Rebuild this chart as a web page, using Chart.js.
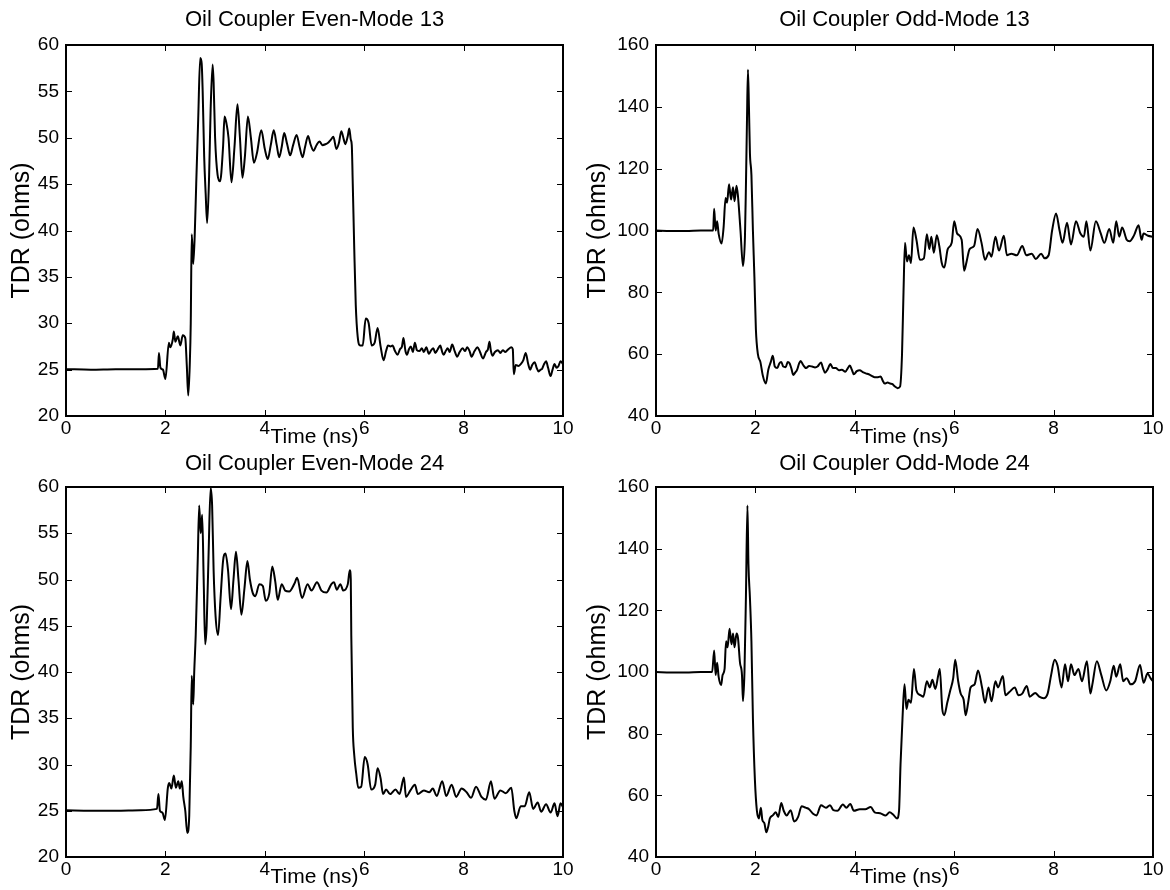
<!DOCTYPE html>
<html>
<head>
<meta charset="utf-8">
<script src="https://cdn.jsdelivr.net/npm/chart.js@4.4.0/dist/chart.umd.min.js"></script>
<style>
  html, body { margin: 0; padding: 0; background: #fff; }
  body { width: 1170px; height: 890px; position: relative; overflow: hidden; }
  canvas { position: absolute; }
</style>
</head>
<body>
<canvas id="c-even13" width="585" height="455" style="left:0;top:0"></canvas>
<canvas id="c-odd13" width="590" height="455" style="left:580px;top:0"></canvas>
<canvas id="c-even24" width="585" height="445" style="left:0;top:445px"></canvas>
<canvas id="c-odd24" width="590" height="445" style="left:580px;top:445px"></canvas>
<script>
// ── DATA (time in ns, TDR impedance in ohms) ───────────────────────
const timeTicks = [0, 2, 4, 6, 8, 10];
const evenTicks = [20, 25, 30, 35, 40, 45, 50, 55, 60];
const oddTicks = [40, 60, 80, 100, 120, 140, 160];

const even13Time = [0, 0.5, 1.0, 1.5, 1.85, 1.87, 1.9, 1.95, 2.0, 2.07, 2.1, 2.15, 2.17, 2.2, 2.25, 2.3, 2.35, 2.4, 2.43, 2.46, 2.49, 2.51, 2.53, 2.56, 2.59, 2.62, 2.66, 2.7, 2.73, 2.75, 2.78, 2.81, 2.84, 2.88, 2.91, 2.95, 2.97, 3.0, 3.05, 3.1, 3.16, 3.19, 3.23, 3.27, 3.33, 3.39, 3.45, 3.5, 3.55, 3.6, 3.66, 3.72, 3.78, 3.84, 3.93, 4.0, 4.06, 4.12, 4.18, 4.24, 4.29, 4.34, 4.39, 4.45, 4.51, 4.57, 4.64, 4.7, 4.76, 4.81, 4.87, 4.92, 4.98, 5.04, 5.1, 5.16, 5.22, 5.28, 5.33, 5.38, 5.44, 5.49, 5.54, 5.59, 5.62, 5.67, 5.7, 5.73, 5.75, 5.77, 5.8, 5.83, 5.87, 5.92, 5.97, 6.03, 6.09, 6.15, 6.21, 6.27, 6.33, 6.39, 6.44, 6.48, 6.53, 6.57, 6.62, 6.67, 6.72, 6.76, 6.79, 6.83, 6.86, 6.9, 6.94, 6.98, 7.02, 7.06, 7.11, 7.16, 7.2, 7.25, 7.3, 7.35, 7.39, 7.43, 7.48, 7.53, 7.57, 7.6, 7.64, 7.68, 7.72, 7.77, 7.82, 7.87, 7.92, 7.98, 8.03, 8.07, 8.12, 8.16, 8.22, 8.28, 8.33, 8.39, 8.45, 8.49, 8.52, 8.55, 8.58, 8.63, 8.69, 8.74, 8.79, 8.84, 8.9, 8.96, 8.99, 9.01, 9.05, 9.1, 9.15, 9.2, 9.25, 9.3, 9.34, 9.38, 9.43, 9.47, 9.51, 9.55, 9.58, 9.62, 9.66, 9.7, 9.75, 9.79, 9.83, 9.87, 9.91, 9.95, 10];
const even13Z = [25.05, 25.0, 25.05, 25.05, 25.1, 26.8, 25.2, 25.0, 24.0, 27.9, 27.4, 28.3, 29.1, 28.0, 28.6, 27.6, 28.7, 28.4, 25.5, 22.2, 25.5, 30.0, 39.6, 36.4, 39.5, 45.0, 52.0, 58.6, 58.0, 55.0, 48.0, 44.0, 40.8, 46.0, 53.0, 57.9, 56.0, 50.0, 46.0, 45.3, 49.0, 52.3, 51.5, 50.0, 45.2, 49.0, 53.6, 50.0, 45.7, 48.0, 52.3, 50.0, 47.3, 48.3, 50.8, 48.8, 47.7, 49.2, 50.8, 49.2, 47.9, 49.0, 50.5, 49.3, 48.1, 49.2, 50.3, 49.0, 47.9, 49.0, 50.2, 49.3, 48.6, 49.2, 49.6, 49.2, 49.3, 49.5, 49.8, 50.1, 48.8, 49.4, 50.7, 49.8, 49.3, 50.2, 51.0, 49.8, 49.2, 45.0, 38.0, 32.0, 28.5, 27.6, 27.6, 30.5, 30.0, 27.6, 27.9, 29.5, 27.5, 26.0, 27.0, 27.6, 27.5, 27.6, 27.0, 26.6, 27.2, 27.5, 28.4, 27.0, 26.6, 27.2, 27.5, 26.9, 27.9, 27.1, 27.0, 27.3, 26.9, 27.4, 26.7, 27.1, 27.3, 26.8, 27.2, 27.6, 26.9, 26.6, 27.0, 27.3, 26.9, 27.7, 27.0, 26.4, 26.9, 27.3, 27.0, 27.4, 27.0, 26.4, 27.0, 27.4, 26.9, 26.2, 26.9, 27.2, 28.0, 27.0, 26.5, 26.9, 27.1, 26.8, 27.1, 26.9, 27.2, 27.4, 27.2, 24.5, 25.5, 25.4, 25.6, 26.0, 26.8, 25.6, 25.0, 25.5, 25.8, 25.2, 24.8, 25.0, 25.1, 25.6, 25.9, 25.2, 24.3, 25.0, 25.6, 25.2, 25.4, 25.9, 25.6];

const odd13Time = [0, 0.3, 0.6, 0.9, 1.15, 1.17, 1.2, 1.23, 1.26, 1.32, 1.36, 1.4, 1.43, 1.47, 1.51, 1.55, 1.58, 1.62, 1.65, 1.7, 1.75, 1.79, 1.81, 1.83, 1.85, 1.87, 1.89, 1.92, 1.95, 1.98, 2.01, 2.05, 2.1, 2.15, 2.21, 2.26, 2.31, 2.35, 2.39, 2.44, 2.48, 2.52, 2.56, 2.61, 2.65, 2.69, 2.73, 2.76, 2.8, 2.84, 2.88, 2.91, 2.96, 3.02, 3.08, 3.14, 3.2, 3.25, 3.32, 3.36, 3.4, 3.45, 3.51, 3.56, 3.62, 3.68, 3.74, 3.81, 3.86, 3.9, 3.94, 3.98, 4.04, 4.1, 4.16, 4.22, 4.28, 4.34, 4.4, 4.45, 4.52, 4.56, 4.6, 4.66, 4.71, 4.76, 4.79, 4.83, 4.86, 4.91, 4.95, 4.98, 5.01, 5.05, 5.09, 5.13, 5.18, 5.24, 5.31, 5.39, 5.45, 5.5, 5.54, 5.59, 5.65, 5.7, 5.75, 5.8, 5.87, 5.95, 6.0, 6.06, 6.15, 6.2, 6.25, 6.31, 6.4, 6.47, 6.55, 6.62, 6.7, 6.75, 6.83, 6.9, 7.0, 7.06, 7.15, 7.26, 7.37, 7.45, 7.56, 7.64, 7.75, 7.82, 7.9, 7.97, 8.05, 8.12, 8.18, 8.27, 8.35, 8.45, 8.54, 8.61, 8.66, 8.74, 8.85, 8.95, 9.02, 9.12, 9.2, 9.26, 9.32, 9.38, 9.47, 9.53, 9.62, 9.71, 9.77, 9.81, 9.9, 10];
const odd13Z = [100, 99.8, 99.8, 100, 100, 107, 100, 103, 99, 95.8, 101, 110.5, 109, 115, 110, 114, 109.5, 114.5, 111, 100, 88.5, 98, 115, 135, 152, 140, 125, 118, 100, 85, 68, 60, 57.5, 53, 50.5, 55, 57.5, 59.5, 56, 55.5, 57, 57.5, 56, 55.8, 57.5, 57, 55, 53.3, 54, 55, 57, 57.8, 56.5, 55.5, 56.2, 56, 55.7, 56, 57.3, 55.5, 54, 55, 56.8, 55.5, 55.5, 54.8, 55, 54.3, 55.5, 56.3, 55, 53.5, 54.5, 54.8, 54.2, 53.8, 53.5, 53.0, 52.5, 52.5, 52.8, 51.5, 50.5, 50.8, 50.5, 50.3, 49.8, 49.3, 49, 49.5, 60, 80, 96, 90, 92, 89.5, 101, 97, 90.5, 91, 98.8, 94, 98, 92.8, 98.5, 95, 89.5, 88, 94, 96, 103, 99, 97, 87, 90, 94, 95, 100.5, 96, 90.5, 93, 91.5, 98, 93.5, 98.3, 92, 92.5, 92, 95, 92, 92.5, 90.8, 92.5, 91, 92, 100, 105.5, 100, 96, 102.5, 95.5, 103, 99, 98, 103, 93.5, 103, 99, 96, 100.5, 96, 103, 98, 101, 97, 96.5, 98.5, 101.7, 97, 99, 98.3, 98];

const even24Time = [0, 0.5, 1.0, 1.5, 1.83, 1.86, 1.89, 1.94, 1.99, 2.05, 2.08, 2.12, 2.17, 2.21, 2.26, 2.29, 2.33, 2.36, 2.4, 2.44, 2.48, 2.51, 2.53, 2.56, 2.58, 2.61, 2.65, 2.68, 2.71, 2.74, 2.77, 2.8, 2.83, 2.87, 2.91, 2.94, 2.97, 3.01, 3.06, 3.11, 3.16, 3.21, 3.26, 3.32, 3.37, 3.42, 3.47, 3.53, 3.59, 3.65, 3.7, 3.76, 3.81, 3.89, 3.96, 4.02, 4.09, 4.15, 4.21, 4.26, 4.34, 4.41, 4.49, 4.6, 4.65, 4.75, 4.86, 4.94, 5.05, 5.14, 5.24, 5.34, 5.39, 5.45, 5.52, 5.58, 5.67, 5.71, 5.73, 5.74, 5.77, 5.8, 5.84, 5.88, 5.94, 6.01, 6.07, 6.14, 6.22, 6.27, 6.33, 6.38, 6.44, 6.52, 6.63, 6.71, 6.8, 6.84, 6.93, 7.02, 7.08, 7.2, 7.31, 7.38, 7.46, 7.57, 7.65, 7.76, 7.85, 7.96, 8.06, 8.15, 8.25, 8.36, 8.45, 8.55, 8.62, 8.74, 8.85, 8.96, 9.02, 9.06, 9.15, 9.23, 9.32, 9.4, 9.49, 9.56, 9.66, 9.75, 9.83, 9.89, 9.95, 10];
const even24Z = [25.05, 25.0, 25.0, 25.05, 25.2, 26.8, 25.0, 24.8, 24.0, 27.5, 28.0, 27.4, 28.8, 27.5, 28.2, 27.4, 28.2, 26.5, 25.0, 22.6, 24.5, 32.0, 39.6, 36.5, 40.0, 44.0, 52.0, 58.0, 55.0, 57.0, 50.0, 43.0, 45.0, 53.0, 59.9, 58.0, 51.0, 46.0, 44.0, 48.0, 52.0, 52.8, 51.0, 46.8, 50.0, 53.0, 50.0, 46.2, 49.0, 52.0, 50.0, 48.5, 48.2, 49.5, 49.3, 47.7, 48.5, 51.4, 49.8, 47.8, 49.5, 48.8, 48.7, 49.6, 50.2, 48.0, 49.5, 48.8, 49.7, 48.8, 48.6, 49.5, 49.7, 48.9, 49.5, 48.8, 49.5, 51.0, 50.0, 44.0, 34.0, 31.0, 29.0, 27.5, 27.6, 30.8, 30.0, 27.3, 27.8, 29.6, 28.5, 26.8, 27.3, 26.8, 27.3, 26.8, 28.6, 26.5, 27.2, 27.8, 26.8, 27.2, 27.0, 27.4, 26.6, 28.2, 26.6, 27.8, 26.5, 27.4, 27.0, 26.4, 27.6, 26.5, 26.2, 28.2, 26.3, 27.2, 26.9, 27.5, 25.0, 24.2, 25.5, 25.5, 27.0, 25.2, 25.9, 24.9, 25.7, 24.8, 25.8, 24.4, 25.8, 25.4];

const odd24Time = [0, 0.3, 0.6, 0.9, 1.13, 1.17, 1.2, 1.23, 1.26, 1.31, 1.34, 1.38, 1.41, 1.44, 1.48, 1.52, 1.55, 1.58, 1.62, 1.65, 1.69, 1.73, 1.75, 1.78, 1.81, 1.84, 1.86, 1.89, 1.92, 1.95, 1.99, 2.03, 2.07, 2.11, 2.14, 2.18, 2.22, 2.26, 2.29, 2.35, 2.41, 2.46, 2.52, 2.57, 2.63, 2.71, 2.78, 2.86, 2.93, 3.01, 3.08, 3.16, 3.23, 3.32, 3.42, 3.5, 3.57, 3.65, 3.76, 3.83, 3.91, 3.98, 4.1, 4.21, 4.32, 4.4, 4.51, 4.62, 4.7, 4.77, 4.85, 4.89, 4.92, 4.96, 5.0, 5.04, 5.08, 5.13, 5.19, 5.24, 5.32, 5.38, 5.45, 5.51, 5.56, 5.62, 5.68, 5.71, 5.76, 5.8, 5.86, 5.92, 5.98, 6.02, 6.08, 6.13, 6.19, 6.23, 6.28, 6.33, 6.41, 6.48, 6.56, 6.62, 6.69, 6.75, 6.83, 6.88, 6.98, 7.03, 7.11, 7.22, 7.29, 7.37, 7.46, 7.52, 7.63, 7.71, 7.8, 7.88, 7.95, 8.02, 8.08, 8.16, 8.23, 8.29, 8.35, 8.42, 8.5, 8.57, 8.67, 8.74, 8.78, 8.87, 8.96, 9.06, 9.14, 9.21, 9.26, 9.34, 9.4, 9.47, 9.55, 9.64, 9.74, 9.81, 9.89, 9.95, 10];
const odd24Z = [100, 99.8, 99.8, 100, 100, 107, 99, 103, 98.5, 95.8, 99, 101, 110, 108, 114, 109, 112.5, 108, 112.5, 111, 103, 99, 90.5, 100, 125, 154, 135, 124, 110, 85, 65, 55, 52.5, 56, 52, 51, 48, 50, 52.5, 53.5, 54.5, 53, 57.5, 55, 53.5, 55.2, 51.5, 53, 56.5, 56, 55.5, 54, 53.5, 56.8, 56, 56.8, 55.2, 55, 57, 56, 57.2, 55, 55.5, 55.5, 56.2, 54.5, 54.2, 53.5, 54.5, 53.8, 52.5, 55, 70, 85, 96, 88, 91, 90, 101, 94, 92.5, 92, 97, 95, 97.5, 94.5, 99, 101, 88, 86, 90, 94, 98, 104, 97, 93, 91, 86, 90, 95, 96, 100.5, 95, 90, 95, 90.5, 97, 95, 98.7, 92.5, 93.5, 95, 92.5, 93, 95.5, 92, 93.2, 92, 91.5, 93, 99, 104, 102, 95, 102.5, 97, 102.5, 99, 101, 97, 103.5, 93, 96, 103.5, 99, 94, 97, 102, 98.5, 102.5, 97, 98, 96, 97, 102.3, 96.5, 99.5, 98, 97];

// ── STYLE ──────────────────────────────────────────────────────────
const FONT = "'Liberation Sans', Arial, Helvetica, sans-serif";

// MATLAB-style box with inward tick marks on all four sides
const matlabAxes = {
  id: 'matlabAxes',
  afterDatasetsDraw(chart) {
    const { ctx, chartArea: a, scales: { x, y } } = chart;
    ctx.save();
    ctx.strokeStyle = '#000';
    ctx.lineWidth = 1;
    ctx.beginPath();
    x.ticks.forEach(t => {
      const px = Math.round(x.getPixelForValue(t.value)) + 0.5;
      ctx.moveTo(px, a.bottom); ctx.lineTo(px, a.bottom - 6);
      ctx.moveTo(px, a.top); ctx.lineTo(px, a.top + 6);
    });
    y.ticks.forEach(t => {
      const py = Math.round(y.getPixelForValue(t.value)) + 0.5;
      ctx.moveTo(a.left, py); ctx.lineTo(a.left + 6, py);
      ctx.moveTo(a.right, py); ctx.lineTo(a.right - 6, py);
    });
    ctx.stroke();
    ctx.lineWidth = 2;
    ctx.strokeRect(a.left, a.top, a.right - a.left, a.bottom - a.top);
    ctx.restore();
  }
};

function pairs(times, values) {
  return times.map((t, i) => ({ x: t, y: values[i] }));
}

function makeChart(id, title, times, values, yTicks, box) {
  const yMin = yTicks[0], yMax = yTicks[yTicks.length - 1];
  return new Chart(document.getElementById(id), {
    type: 'line',
    data: {
      datasets: [{
        data: pairs(times, values),
        borderColor: '#000',
        borderWidth: 2,
        pointRadius: 0,
        cubicInterpolationMode: 'monotone',
        fill: false,
      }]
    },
    options: {
      responsive: false,
      animation: false,
      devicePixelRatio: 1,
      events: [],
      layout: { padding: { left: 0, right: box.right, top: 0, bottom: 0 } },
      plugins: {
        legend: { display: false },
        tooltip: { enabled: false },
        title: {
          display: true,
          text: title,
          fullSize: false,
          color: '#000',
          font: { family: FONT, size: 22, weight: 'normal' },
          padding: { top: box.titleTop, bottom: box.titleBottom },
        },
      },
      scales: {
        x: {
          type: 'linear',
          min: 0, max: 10,
          afterBuildTicks: s => { s.ticks = timeTicks.map(v => ({ value: v })); },
          afterFit: s => { s.height = box.xHeight; },
          grid: { display: false, drawTicks: false },
          border: { display: false },
          ticks: { color: '#000', padding: 1, maxRotation: 0, font: { family: FONT, size: 19 } },
          title: {
            display: true, text: 'Time (ns)', color: '#000',
            font: { family: FONT, size: 21 },
            padding: { top: 0, bottom: box.xTitleBottom },
          },
        },
        y: {
          type: 'linear',
          min: yMin, max: yMax,
          afterBuildTicks: s => { s.ticks = yTicks.map(v => ({ value: v })); },
          afterFit: s => { s.width = box.yWidth; },
          grid: { display: false, drawTicks: false },
          border: { display: false },
          ticks: { color: '#000', padding: 7, font: { family: FONT, size: 19 } },
          title: {
            display: true, text: 'TDR (ohms)', color: '#000',
            font: { family: FONT, size: 25 },
            padding: { top: box.yTitleTop, bottom: 0 },
          },
        },
      },
    },
    plugins: [matlabAxes],
  });
}

makeChart('c-even13', 'Oil Coupler Even-Mode 13', even13Time, even13Z, evenTicks,
  { right: 22, titleTop: 7, titleBottom: 11.6, xHeight: 39, xTitleBottom: 5, yWidth: 66, yTitleTop: 7 });
makeChart('c-odd13', 'Oil Coupler Odd-Mode 13', odd13Time, odd13Z, oddTicks,
  { right: 17, titleTop: 7, titleBottom: 11.6, xHeight: 39, xTitleBottom: 5, yWidth: 76, yTitleTop: 3 });
makeChart('c-even24', 'Oil Coupler Even-Mode 24', even24Time, even24Z, evenTicks,
  { right: 22, titleTop: 5.8, titleBottom: 9.8, xHeight: 33, xTitleBottom: 0.5, yWidth: 66, yTitleTop: 7 });
makeChart('c-odd24', 'Oil Coupler Odd-Mode 24', odd24Time, odd24Z, oddTicks,
  { right: 17, titleTop: 5.8, titleBottom: 9.8, xHeight: 33, xTitleBottom: 0.5, yWidth: 76, yTitleTop: 3 });
</script>
</body>
</html>
